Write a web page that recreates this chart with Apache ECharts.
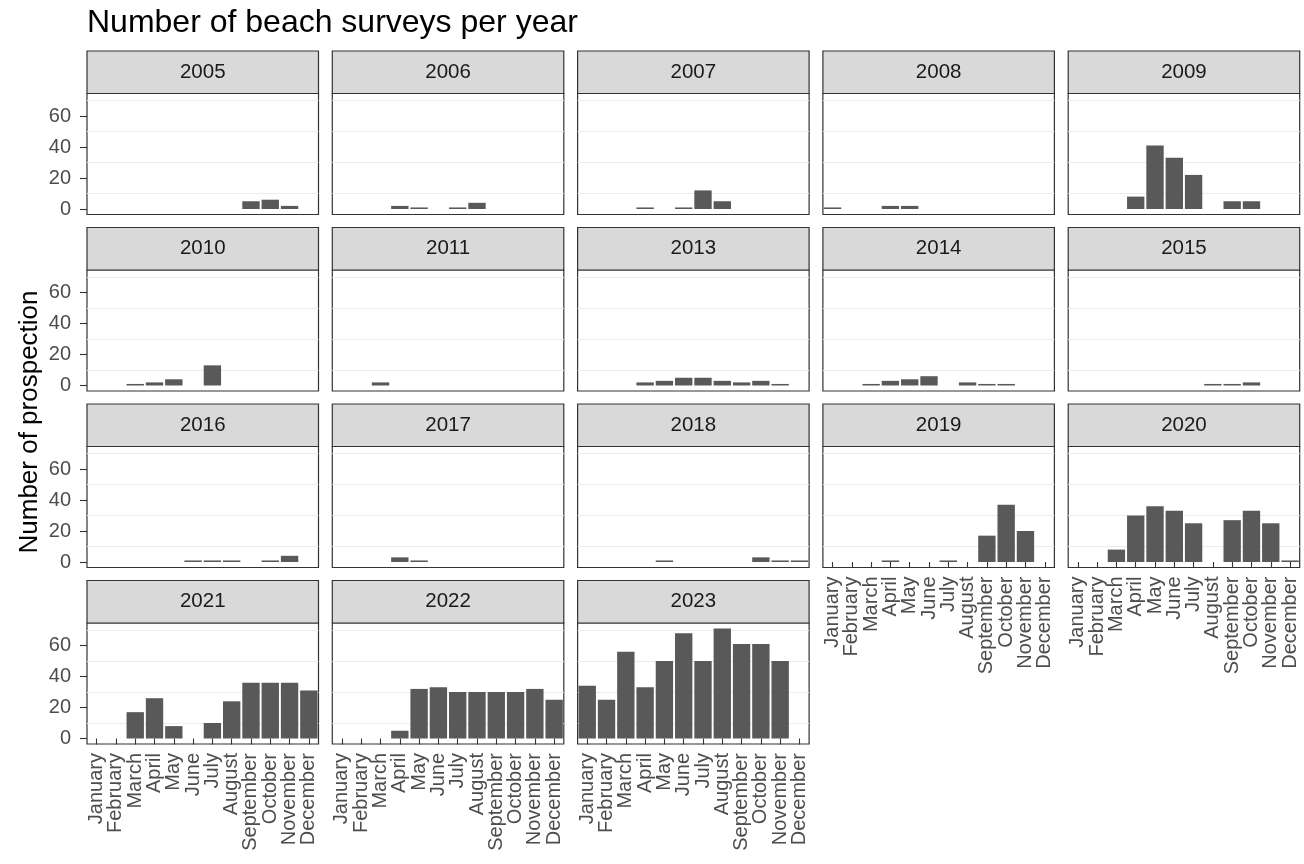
<!DOCTYPE html>
<html><head><meta charset="utf-8">
<script src="https://cdn.jsdelivr.net/npm/echarts@6/dist/echarts.min.js"></script>
<style>html,body{margin:0;padding:0;background:#fff}#c{width:1304px;height:864px}</style>
</head><body><div id="c"></div>
<script>
// ---------------- data ----------------
const months = ['January','February','March','April','May','June','July','August','September','October','November','December'];
const years = ['2005','2006','2007','2008','2009','2010','2011','2013','2014','2015','2016','2017','2018','2019','2020','2021','2022','2023'];
const y2005 = [0,0,0,0,0,0,0,0,5,6,2,0];
const y2006 = [0,0,0,2,1,0,1,4,0,0,0,0];
const y2007 = [0,0,0,1,0,1,12,5,0,0,0,0];
const y2008 = [1,0,0,2,2,0,0,0,0,0,0,0];
const y2009 = [0,0,0,8,41,33,22,0,5,5,0,0];
const y2010 = [0,0,1,2,4,0,13,0,0,0,0,0];
const y2011 = [0,0,2,0,0,0,0,0,0,0,0,0];
const y2013 = [0,0,0,2,3,5,5,3,2,3,1,0];
const y2014 = [0,0,1,3,4,6,0,2,1,1,0,0];
const y2015 = [0,0,0,0,0,0,0,1,1,2,0,0];
const y2016 = [0,0,0,0,0,1,1,1,0,1,4,0];
const y2017 = [0,0,0,3,1,0,0,0,0,0,0,0];
const y2018 = [0,0,0,0,1,0,0,0,0,3,1,1];
const y2019 = [0,0,0,1,0,0,1,0,17,37,20,0];
const y2020 = [0,0,8,30,36,33,25,0,27,33,25,1];
const y2021 = [0,0,17,26,8,0,10,24,36,36,36,31];
const y2022 = [0,0,0,5,32,33,30,30,30,30,32,25];
const y2023 = [34,25,56,33,50,68,50,71,61,61,50,0];
const counts = [y2005,y2006,y2007,y2008,y2009,y2010,y2011,y2013,y2014,y2015,y2016,y2017,y2018,y2019,y2020,y2021,y2022,y2023];
const yTickValues = [0,20,40,60];
const yGridValues = [10,30,50,70];
const chartTitle = 'Number of beach surveys per year';
const yTitle = 'Number of prospection';

// ---------------- layout ----------------
const FONT = '"Liberation Sans", Arial, Helvetica, sans-serif';
const NCOL = 5, X0 = 87, COLP = 245.3, PW = 231.5, Y0 = 51, ROWP = 176.5, STRIPH = 42.5, BODYH = 121;
const vmax = Math.max(...counts.flat());
const pad = vmax * 0.05;
const ymin = -pad, ymax = vmax + pad;

const grids = [], xAxes = [], yAxes = [], series = [], graphics = [];
years.forEach((yr, k) => {
  const col = k % NCOL, row = Math.floor(k / NCOL);
  const left = X0 + COLP * col;
  const stripTop = Y0 + ROWP * row;
  const top = stripTop + STRIPH;
  const showY = col === 0;
  const showX = k + NCOL >= years.length;
  grids.push({left: left, top: top, width: PW, height: BODYH, show: true,
    backgroundColor: '#ffffff', borderColor: '#333333', borderWidth: 1.2,
    containLabel: false, outerBoundsMode: 'none'});
  xAxes.push({type: 'category', gridIndex: k, data: months, boundaryGap: true,
    axisLine: {show: false},
    axisTick: {show: showX, alignWithLabel: true, length: 6, lineStyle: {color: '#333333', width: 1.1}},
    axisLabel: {show: showX, rotate: 90, interval: 0, margin: 9, fontSize: 20, color: '#4d4d4d', fontFamily: FONT},
    splitLine: {show: false}});
  yAxes.push({type: 'value', gridIndex: k, min: ymin, max: ymax,
    axisLine: {show: false},
    axisTick: {show: showY, length: 7, customValues: yTickValues, lineStyle: {color: '#333333', width: 1.1}},
    axisLabel: {show: showY, customValues: yTickValues, fontSize: 20, color: '#4d4d4d', fontFamily: FONT, margin: 16},
    splitLine: {show: false}});
  yAxes.push({type: 'value', gridIndex: k, min: ymin, max: ymax,
    axisLine: {show: false},
    axisTick: {show: false, customValues: yGridValues},
    axisLabel: {show: false, customValues: yGridValues},
    splitLine: {show: true, lineStyle: {color: '#ebebeb', width: 1.2}}});
  series.push({type: 'bar', xAxisIndex: k, yAxisIndex: 2 * k,
    data: counts[k].map(v => (v > 0 ? v : null)),
    barCategoryGap: '10%', itemStyle: {color: '#595959'}, silent: true});
  graphics.push({type: 'rect', shape: {x: left, y: stripTop, width: PW, height: STRIPH},
    style: {fill: '#d9d9d9', stroke: '#333333', lineWidth: 1.2}, silent: true});
  graphics.push({type: 'text', x: left + PW / 2, y: stripTop + STRIPH / 2,
    style: {text: yr, fontSize: 20.5, fontFamily: FONT, fill: '#1a1a1a',
      align: 'center', verticalAlign: 'middle', textAlign: 'center', textVerticalAlign: 'middle'}, silent: true});
});
graphics.push({type: 'text', x: 87, y: 23,
  style: {text: chartTitle, fontSize: 32, fontFamily: FONT, fill: '#000000',
    align: 'left', verticalAlign: 'middle', textAlign: 'left', textVerticalAlign: 'middle'}, silent: true});
graphics.push({type: 'text', x: 30, y: 422, rotation: Math.PI / 2,
  style: {text: yTitle, fontSize: 26, fontFamily: FONT, fill: '#000000',
    align: 'center', verticalAlign: 'middle', textAlign: 'center', textVerticalAlign: 'middle'}, silent: true});

const chart = echarts.init(document.getElementById('c'), null, {renderer: 'canvas'});
chart.setOption({
  animation: false,
  backgroundColor: '#ffffff',
  grid: grids, xAxis: xAxes, yAxis: yAxes, series: series,
  graphic: {elements: graphics}
});
</script></body></html>
